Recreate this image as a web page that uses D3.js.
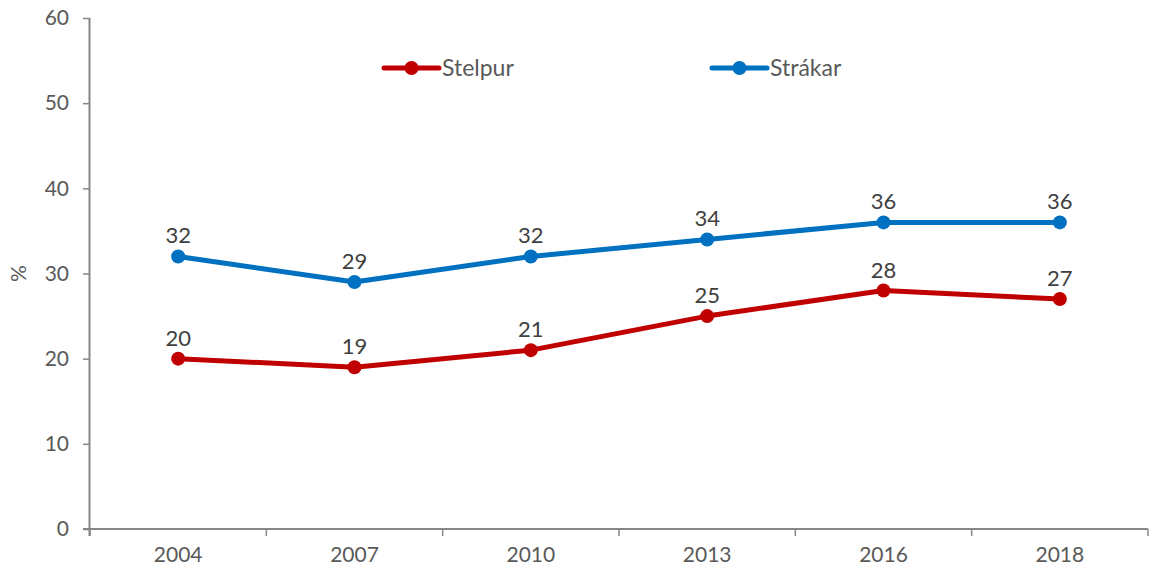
<!DOCTYPE html>
<html>
<head>
<meta charset="utf-8">
<script src="https://cdn.jsdelivr.net/npm/d3@7"></script>
<style>
  body { margin: 0; background: #fff; }
  svg text { font-family: Lato, "Open Sans", sans-serif; }
</style>
</head>
<body>
<div class="chart-holder"></div>
<script>
// Data
const years = ["2004", "2007", "2010", "2013", "2016", "2018"];
const stelpur = [20, 19, 21, 25, 28, 27];
const strakar = [32, 29, 32, 34, 36, 36];
const yTicks = [0, 10, 20, 30, 40, 50, 60];

const width = 1150;
const height = 571;
const margin = { top: 18, right: 2, bottom: 42, left: 90 };

const svg = d3.select('.chart-holder').append('svg')
  .attr('width', width)
  .attr('height', height);

const xScale = d3.scaleBand()
  .domain(years)
  .range([margin.left, width - margin.right]);

const yScale = d3.scaleLinear()
  .domain([0, 60])
  .range([height - margin.bottom, margin.top]);

const axisColor = '#868686';
const labelColor = '#595959';

// Y axis
const yAxis = svg.append('g')
  .attr('transform', 'translate(' + margin.left + ',0)')
  .call(d3.axisLeft(yScale).tickValues(yTicks).tickSize(7).tickPadding(14));
yAxis.select('.domain').attr('stroke', axisColor).attr('stroke-width', 2)
  .attr('d', 'M-0.5,' + yScale(60) + 'V' + (yScale(0) + 7));
yAxis.selectAll('.tick line').attr('stroke', axisColor).attr('stroke-width', 1.5);
yAxis.selectAll('.tick text').attr('fill', labelColor).style('font-size', '21px');

// X axis
const xAxis = svg.append('g')
  .attr('transform', 'translate(0,' + yScale(0) + ')')
  .call(d3.axisBottom(xScale).tickSize(0).tickPadding(18));
xAxis.select('.domain').attr('stroke', axisColor).attr('stroke-width', 2)
  .attr('d', 'M' + (margin.left - 7) + ',0H' + (width - margin.right));
xAxis.selectAll('.tick text').attr('fill', labelColor).style('font-size', '21px');

// Category separators on the x axis
const bounds = years.map(d => xScale(d)).concat([xScale.range()[1]]);
xAxis.selectAll('.sep')
  .data(bounds)
  .enter().append('line')
  .attr('x1', d => d).attr('x2', d => d)
  .attr('y1', 0).attr('y2', 7)
  .attr('stroke', axisColor)
  .attr('stroke-width', 1.5);

// Y axis title
svg.append('text')
  .attr('transform', 'translate(26,' + yScale(30) + ') rotate(-90)')
  .attr('text-anchor', 'middle')
  .attr('fill', labelColor)
  .style('font-size', '21px')
  .text('%');

const cx = d => xScale(d) + xScale.bandwidth() / 2;

const series = [
  { name: 'Stelpur', values: stelpur, color: '#C00000' },
  { name: 'Strákar', values: strakar, color: '#0070C0' }
];

const line = d3.line()
  .x((d, i) => cx(years[i]))
  .y(d => yScale(d));

series.forEach(s => {
  svg.append('path')
    .datum(s.values)
    .attr('fill', 'none')
    .attr('stroke', s.color)
    .attr('stroke-width', 5)
    .attr('stroke-linejoin', 'round')
    .attr('d', line);

  svg.selectAll(null)
    .data(s.values)
    .enter().append('circle')
    .attr('cx', (d, i) => cx(years[i]))
    .attr('cy', d => yScale(d))
    .attr('r', 7)
    .attr('fill', s.color);

  svg.selectAll(null)
    .data(s.values)
    .enter().append('text')
    .attr('x', (d, i) => cx(years[i]))
    .attr('y', d => yScale(d) - 13)
    .attr('text-anchor', 'middle')
    .attr('fill', '#404040')
    .style('font-size', '22px')
    .text(d => d);
});

// Legend
const legendPos = [384, 712];
series.forEach((s, i) => {
  const g = svg.append('g')
    .attr('transform', 'translate(' + legendPos[i] + ',68)');
  g.append('line')
    .attr('x1', 0).attr('x2', 55)
    .attr('stroke', s.color)
    .attr('stroke-width', 5)
    .attr('stroke-linecap', 'round');
  g.append('circle')
    .attr('cx', 27.5)
    .attr('r', 7)
    .attr('fill', s.color);
  g.append('text')
    .attr('x', 58)
    .attr('dy', '0.35em')
    .attr('fill', labelColor)
    .style('font-size', '23px')
    .text(s.name);
});
</script>
</body>
</html>
